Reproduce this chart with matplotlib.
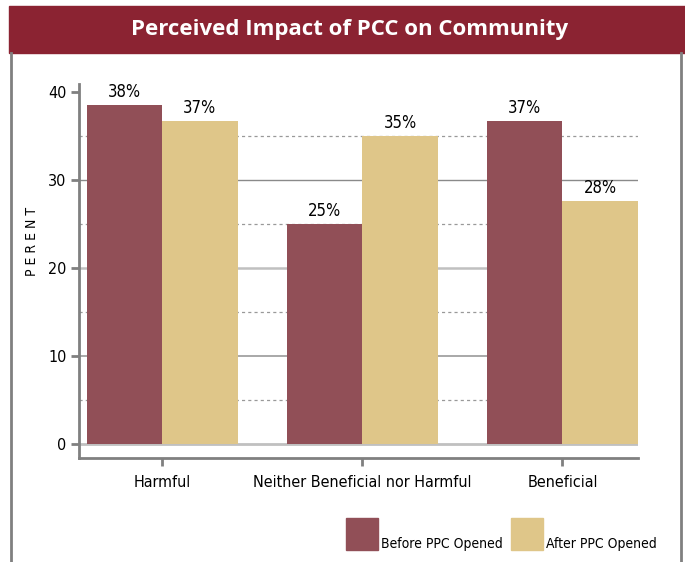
import numpy as np
import matplotlib.pyplot as plt
from matplotlib import font_manager as fm
from matplotlib.patches import Rectangle
from matplotlib.lines import Line2D

# Datos del grafico
categorias = ['Harmful', 'Neither Beneficial nor Harmful', 'Beneficial']
antes = [38.5, 25.0, 36.7]
despues = [36.7, 35.0, 27.6]
etiquetas_antes = ['38%', '25%', '37%']
etiquetas_despues = ['37%', '35%', '28%']
series = ['Before PPC Opened', 'After PPC Opened']
yticks = [0, 10, 20, 30, 40]

# Estilo
rojo = '#914F57'
crema = '#DFC689'
banner = '#8B2332'
gris = '#808080'

# Buscamos una fuente estrecha (tipo Myriad condensada)
estrechas = [f for f in fm.fontManager.ttflist
             if ('Narrow' in f.name or 'Condensed' in f.name
                 or f.stretch in ('condensed', 'semi-condensed'))
             and f.style == 'normal' and f.weight in (400, 'normal', 'regular')]
if estrechas:
    ruta = estrechas[0].fname
    def fp(size):
        return fm.FontProperties(fname=ruta, size=size)
else:
    def fp(size):
        return fm.FontProperties(family='Lato', size=size)

fig = plt.figure(figsize=(6.85, 5.62), dpi=100)

# Banda del titulo y marco gris
fig.patches.append(Rectangle((9/685, 1-53/562), 676/685, 47/562,
                             transform=fig.transFigure, color=banner, zorder=0))
fig.text(350/685, 1-30/562, 'Perceived Impact of PCC on Community',
         color='white', fontsize=16, fontweight='bold',
         ha='center', va='center', family=['Open Sans', 'DejaVu Sans'])
for xf in (11/685, 681/685):
    fig.lines.append(Line2D([xf, xf], [0, 1-53/562], transform=fig.transFigure,
                            color=gris, lw=2))

ax = fig.add_axes([79/685, 1-458/562, 559/685, 374/562])
x = np.arange(len(categorias))
w = 0.3775

# Lineas horizontales
for y, c, lw in [(0, '#c0c0c0', 2), (10, '#9a9a9a', 1.2),
                 (20, '#c0c0c0', 1.8), (30, '#8a8a8a', 1.0)]:
    ax.axhline(y, color=c, lw=lw, zorder=1)
for y in [5, 15, 25, 35]:
    ax.axhline(y, color='#999999', lw=0.9, ls=(0, (2.5, 2.5)), zorder=1)

b1 = ax.bar(x - w/2, antes, w, color=rojo, zorder=2, label=series[0])
b2 = ax.bar(x + w/2, despues, w, color=crema, zorder=2, label=series[1])

for barras, etq in [(b1, etiquetas_antes), (b2, etiquetas_despues)]:
    for r, t in zip(barras, etq):
        ax.annotate(t, (r.get_x() + r.get_width()/2, r.get_height()),
                    xytext=(0, 3), textcoords='offset points',
                    ha='center', va='bottom', fontproperties=fp(12))

ax.set_xlim(-0.415, 2.3775)
ax.set_ylim(-1.6, 40.9)
ax.set_yticks(yticks)
ax.set_xticks(x)
ax.set_xticklabels(categorias)
for t in ax.get_xticklabels():
    t.set_fontproperties(fp(11.5))
ax.set_yticklabels([str(v) for v in yticks])
for t in ax.get_yticklabels():
    t.set_fontproperties(fp(11.5))
ax.tick_params(axis='y', length=6, width=2, color=gris, pad=3)
ax.tick_params(axis='x', length=6, width=2, color=gris, pad=6)
for s in ['top', 'right']:
    ax.spines[s].set_visible(False)
for s in ['left', 'bottom']:
    ax.spines[s].set_color(gris)
    ax.spines[s].set_linewidth(2)

ax.set_ylabel('P E R E N T', fontproperties=fp(10))
ax.yaxis.set_label_coords(-0.072, 0.58)

# Leyenda manual
for i, (nombre, col) in enumerate(zip(series, [rojo, crema])):
    x0 = [346, 511][i]
    fig.patches.append(Rectangle((x0/685, 1-550/562), 32/685, 32/562,
                                 transform=fig.transFigure, color=col))
    fig.text((x0+35)/685, 1-548/562, nombre, fontproperties=fp(10),
             va='baseline')

fig.savefig('out.png', dpi=100)
